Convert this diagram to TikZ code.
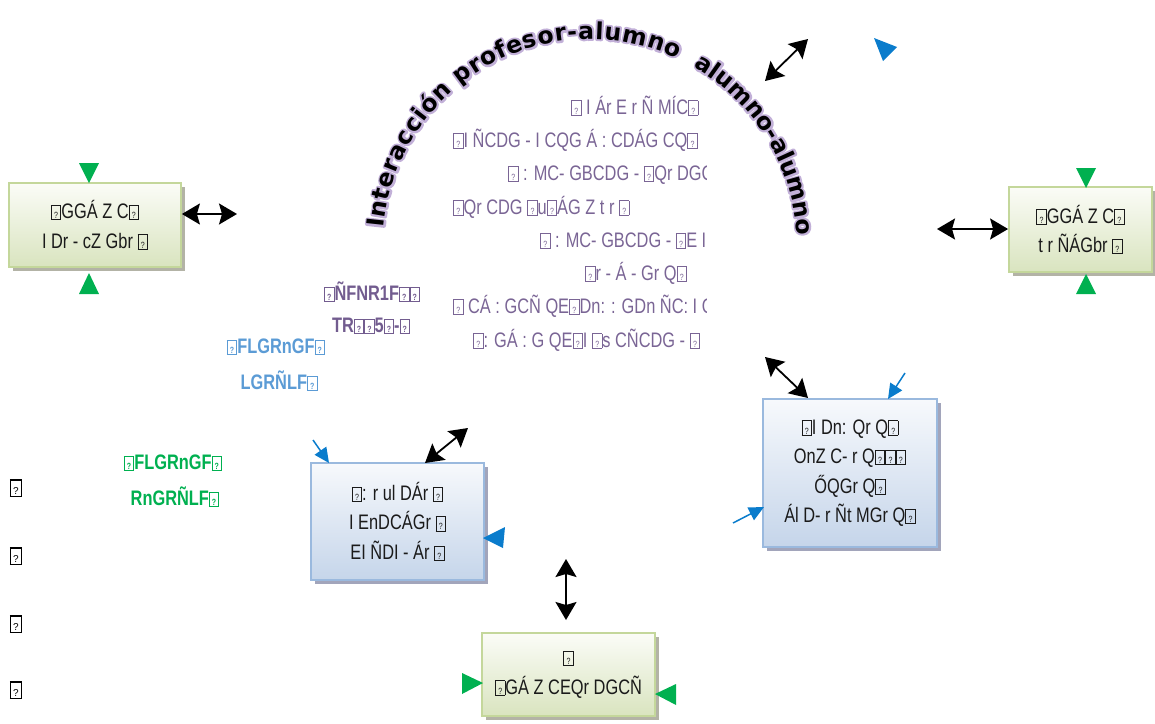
\documentclass[tikz,border=0pt]{standalone}
\usepackage{fontspec}
\setmainfont{Liberation Sans}
\newfontfamily\condf[FakeStretch=0.78]{Liberation Sans}
\newfontfamily\arcfam{DejaVu Sans}
\usetikzlibrary{arrows.meta,shadows,decorations.text,calc}
\definecolor{purp}{HTML}{7A6595}
\definecolor{purpb}{HTML}{725C8F}
\definecolor{blueT}{HTML}{5B9BD5}
\definecolor{greenT}{HTML}{00B050}
\definecolor{greenmk}{HTML}{00B050}
\definecolor{bluemk}{HTML}{0A7CCC}
\definecolor{gborder}{HTML}{C4D79B}
\definecolor{gtop}{HTML}{FBFCF7}
\definecolor{gbot}{HTML}{D9E4BF}
\definecolor{bborder}{HTML}{9AB9DE}
\definecolor{btop}{HTML}{F7F9FC}
\definecolor{bbot}{HTML}{C5D5EA}
\definecolor{gshadow}{HTML}{B3B3A6}
\definecolor{bshadow}{HTML}{A2A5BB}
\definecolor{halo}{HTML}{C2B0D8}
\definecolor{ink}{HTML}{1A1A1A}
\newcommand\qb{{\setlength\fboxsep{0.8pt}\setlength\fboxrule{0.9pt}\fbox{\rule{0pt}{12pt}\makebox[7pt]{\fontsize{9}{9}\selectfont ?}}}}
\newcommand\qbig{{\setlength\fboxsep{1pt}\setlength\fboxrule{1.2pt}\fbox{\rule{0pt}{13pt}\makebox[8pt]{\fontsize{10}{10}\selectfont ?}}}}
\newcommand\arcfont{\arcfam\bfseries\fontsize{23.5}{23.5}\selectfont}
\newcommand\halostart{\special{pdf:literal direct 2 Tr 4 w 1 j}}
\newcommand\boxfont{\condf\fontsize{21}{29.5}\selectfont}
\tikzset{
  gbox/.style={draw=gborder, line width=1.8pt, top color=gtop, bottom color=gbot,
    drop shadow={shadow xshift=4pt, shadow yshift=-4pt, fill=gshadow, opacity=1},
    align=center, font=\boxfont, text=ink, inner sep=0pt},
  bbox/.style={draw=bborder, line width=1.8pt, top color=btop, bottom color=bbot,
    drop shadow={shadow xshift=4pt, shadow yshift=-4pt, fill=bshadow, opacity=1},
    align=center, font=\boxfont, text=ink, inner sep=0pt},
  bigarrow/.style={line width=1.8pt, {Stealth[length=18pt,width=21pt,inset=3pt]}-{Stealth[length=18pt,width=21pt,inset=3pt]}},
  bluearrow/.style={bluemk, line width=1.5pt, -{Triangle[length=15pt,width=14pt]}},
  ptext/.style={font=\boxfont, text=purp, anchor=base west, inner sep=0pt},
  btext/.style={font=\condf\bfseries\fontsize{21}{21}\selectfont, inner sep=0pt},
}
\begin{document}
\begin{tikzpicture}[x=1pt,y=1pt]
\useasboundingbox (0,0) rectangle (1155,-723);

% arc text: halo pass (stroked) then black pass
\coordinate (C) at (590,-246);
\path[decorate, decoration={text along path, text color=halo,
  text={|\arcfont\halostart|Interacción profesor-alumno}, text align=fit to path}]
  ($(C)+(175:207)$) arc[start angle=175, end angle=65, radius=207];
\path[decorate, decoration={text along path, text color=halo,
  text={|\arcfont\halostart|alumno-alumno}, text align=fit to path}]
  ($(C)+(60:207)$) arc[start angle=60, end angle=3, radius=207];
\path[decorate, decoration={text along path, text color=black,
  text={|\arcfont|Interacción profesor-alumno}, text align=fit to path}]
  ($(C)+(175:207)$) arc[start angle=175, end angle=65, radius=207];
\path[decorate, decoration={text along path, text color=black,
  text={|\arcfont|alumno-alumno}, text align=fit to path}]
  ($(C)+(60:207)$) arc[start angle=60, end angle=3, radius=207];

% boxes
\node[gbox, minimum width=172pt, minimum height=84pt] (gl) at (95,-225) {\qb GGÁ Z C\qb\\I Dr - cZ Gbr \qb};
\node[gbox, minimum width=143pt, minimum height=85pt] (gr) at (1080.5,-229.5) {\qb GGÁ Z C\qb\\t r ÑÁGbr \qb};
\node[gbox, minimum width=173pt, minimum height=83pt] (gb) at (568.5,-674.5) {\qb\\\qb GÁ Z CEQr DGCÑ};
\node[bbox, minimum width=173pt, minimum height=117pt] (bl) at (397.5,-521.5) {\qb : r ul DÁr \qb\\I EnDCÁGr \qb\\EI ÑDI - Ár \qb};
\node[bbox, minimum width=174pt, minimum height=148pt] (br) at (850,-473) {\qb I Dn: Qr Q\qb\\OnZ C- r Q\qb\qb\qb\\ŐQGr Q\qb\\Ál D- r Ñt MGr Q\qb};

% purple central text (clipped at right)
\begin{scope}
\clip (440,-80) rectangle (706,-360);
\node[ptext] (p1) at (571,-114) {\qb\ I Ár E r Ñ MÍC\qb};
\node[ptext] (p2) at (453,-147) {\qb I ÑCDG - I CQG Á : CDÁG CQ\qb};
\node[ptext] (p3) at (508,-180) {\qb\ : MC- GBCDG - \qb Qr DGCÑ};
\node[ptext] (p4) at (453,-214) {\qb Qr CDG \qb u\qb ÁG Z t r \qb};
\node[ptext] (p5) at (540,-247) {\qb\ : MC- GBCDG - \qb E I \qb};
\node[ptext] (p6) at (585,-280) {\qb r - Á - Gr Q\qb};
\node[ptext] (p7) at (453,-313) {\qb\ CÁ : GCÑ QE\qb Dn: : GDn ÑC: I Q\qb};
\node[ptext] (p8) at (473,-347) {\qb : GÁ : G QE\qb I \qb s CÑCDG - \qb};
\end{scope}

% bold labels
\node[btext, text=purpb] (pb1) at (372,-292) {\qb ÑFNR1F\qb\qb};
\node[btext, text=purpb] (pb2) at (371,-326) {TR\qb\qb 5\qb -\qb};
\node[btext, text=blueT] (bt1) at (276,-347) {\qb FLGRnGF\qb};
\node[btext, text=blueT] (bt2) at (279,-381) {LGRÑLF\qb};
\node[btext, text=greenT] (gt1) at (173,-463) {\qb FLGRnGF\qb};
\node[btext, text=greenT] (gt2) at (175,-497) {RnGRÑLF\qb};

% left column glyphs
\node[inner sep=0pt] (q1) at (16,-488) {\qbig};
\node[inner sep=0pt] (q2) at (16,-556) {\qbig};
\node[inner sep=0pt] (q3) at (16,-624) {\qbig};
\node[inner sep=0pt] (q4) at (16,-690) {\qbig};

% black double arrows
\coordinate (a1) at (237,-214);
\draw[bigarrow] (gl.east |- 0,-214) -- (a1);
\coordinate (a2a) at (765,-81);
\coordinate (a2b) at (808,-39);
\draw[bigarrow] (a2a) -- (a2b);
\coordinate (a3) at (937,-229);
\draw[bigarrow] (a3) -- (gr.west |- 0,-229);
\coordinate (a4) at (765,-357);
\draw[bigarrow] (a4) -- (808,-398);
\coordinate (a5) at (468,-428);
\draw[bigarrow] (425,-463) -- (a5);
\coordinate (a6a) at (566,-559);
\coordinate (a6b) at (566,-620);
\draw[bigarrow] (a6a) -- (a6b);

% blue arrows
\coordinate (b1) at (313,-440);
\draw[bluearrow] (b1) -- (329,-463);
\coordinate (b2) at (905,-373);
\draw[bluearrow] (b2) -- (888,-399);
\coordinate (b3) at (733,-523);
\draw[bluearrow] (b3) -- (764,-507);
\fill[bluemk] (483,-538) -- (505,-527) -- (503,-548) -- cycle;
\fill[bluemk] (874,-38) -- (897,-47) -- (883,-61) -- cycle;

% green markers
\fill[greenmk] (79,-163) -- (99,-163) -- (89,-183) -- cycle;
\fill[greenmk] (79,-294) -- (99,-294) -- (89,-273) -- cycle;
\fill[greenmk] (1076,-168) -- (1096,-168) -- (1086,-188) -- cycle;
\fill[greenmk] (1076,-294) -- (1096,-294) -- (1086,-274) -- cycle;
\fill[greenmk] (462,-673) -- (462,-694) -- (483,-683) -- cycle;
\fill[greenmk] (676,-684) -- (676,-705) -- (655,-694) -- cycle;
\end{tikzpicture}
\end{document}
